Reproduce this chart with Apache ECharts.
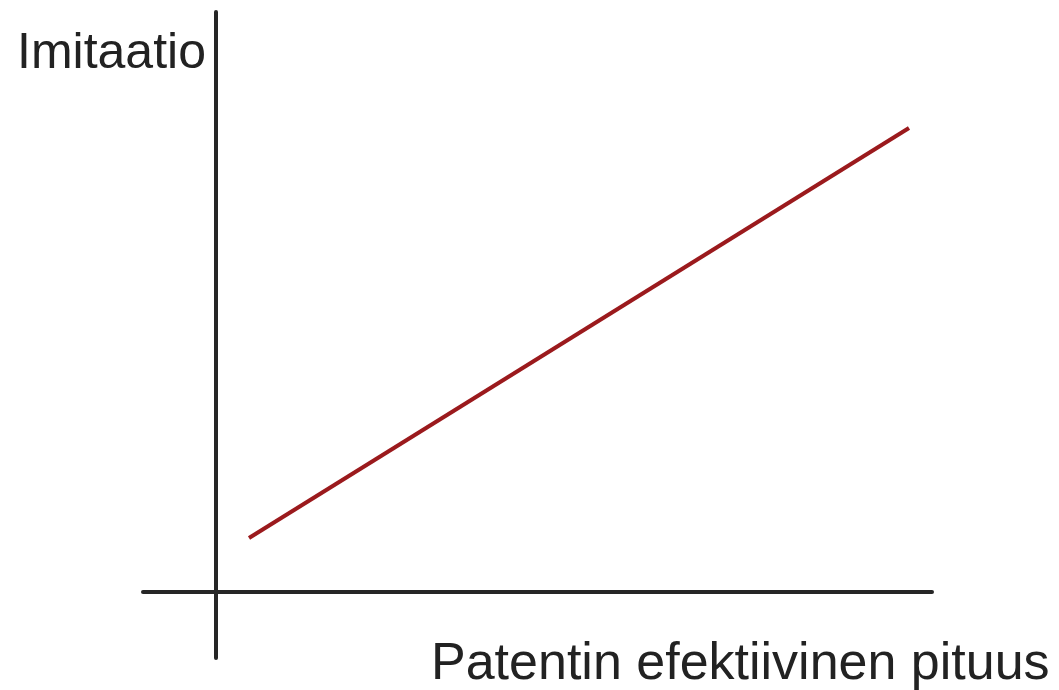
<!DOCTYPE html>
<html>
<head>
<meta charset="utf-8">
<script src="https://cdn.jsdelivr.net/npm/echarts@6/dist/echarts.min.js"></script>
<style>
    html, body {margin: 0; padding: 0; background: #fff;}
    #chart {width: 1059px; height: 690px;}
</style>
</head>
<body>
<div id="chart"></div>
<script>
    // diagram in pixel-like units, origin at the axis crossing
    var xRange = [-73, 716];
    var yRange = [-66, 580];
    var lineX = [33, 693];
    var lineY = [54, 464];
    var yTitle = 'Imitaatio';
    var xTitle = 'Patentin efektiivinen pituus';

    var points = [];
    for (var i = 0; i < lineX.length; i++) {
        points.push([lineX[i], lineY[i]]);
    }

    var myChart = echarts.init(document.getElementById('chart'));
    myChart.setOption({
        animation: false,
        grid: {left: 143, right: 127, top: 12, bottom: 32},
        xAxis: {
            type: 'value',
            min: xRange[0],
            max: xRange[1],
            axisLine: {onZero: true, lineStyle: {color: '#262626', width: 4}},
            axisTick: {show: false},
            axisLabel: {show: false},
            splitLine: {show: false}
        },
        yAxis: {
            type: 'value',
            min: yRange[0],
            max: yRange[1],
            axisLine: {show: true, onZero: true, lineStyle: {color: '#262626', width: 4}},
            axisTick: {show: false},
            axisLabel: {show: false},
            splitLine: {show: false}
        },
        graphic: [
            {
                type: 'text', left: 17, top: 29,
                style: {text: yTitle, fill: '#222', font: '50px "Liberation Sans", Arial, sans-serif'}
            },
            {
                type: 'text', left: 431, top: 639,
                style: {text: xTitle, fill: '#222', font: '52px "Liberation Sans", Arial, sans-serif'}
            }
        ],
        series: [{
            type: 'line',
            data: points,
            showSymbol: false,
            lineStyle: {color: '#9b1a1d', width: 4}
        }]
    });
</script>
</body>
</html>
